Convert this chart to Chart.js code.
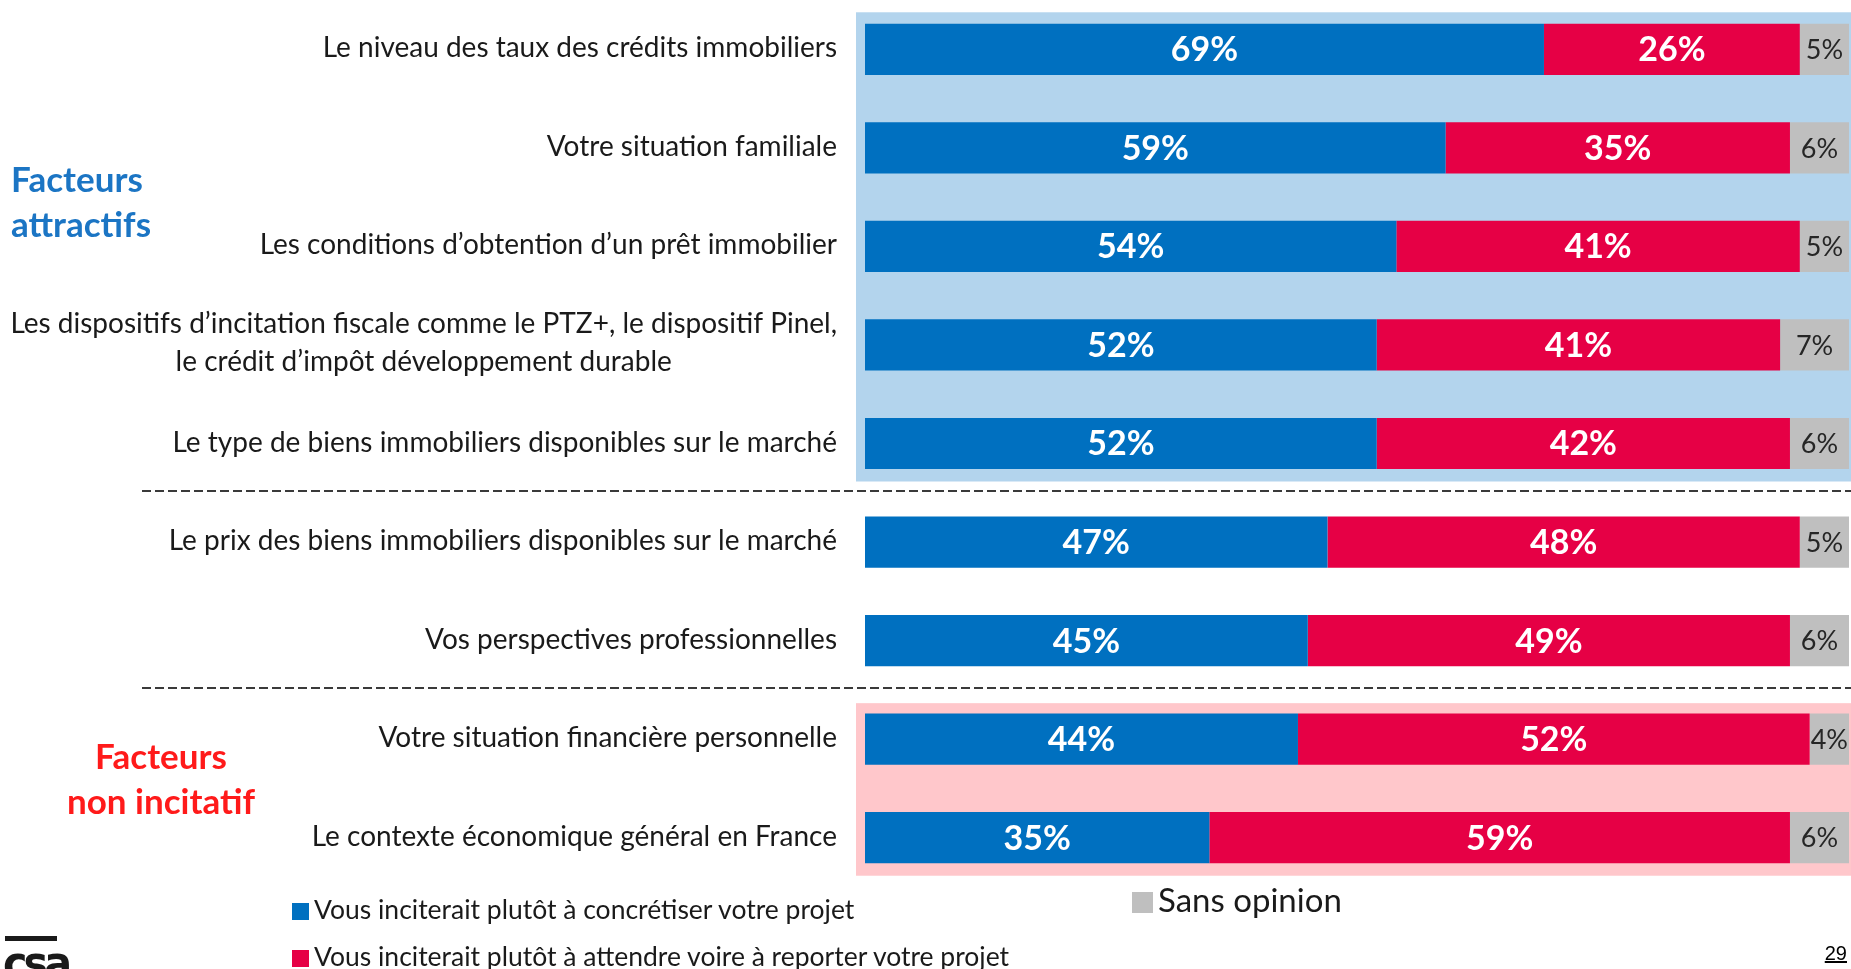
<!DOCTYPE html>
<html>
<head>
<meta charset="utf-8">
<script src="https://cdn.jsdelivr.net/npm/chart.js@4"></script>
<style>
  body { margin: 0; background: #fff; font-family: Lato, sans-serif; }
  #wrap { position: relative; width: 1851px; height: 969px; overflow: hidden; }
  #myChart { position: absolute; left: 0; top: 0; }
  .side { position: absolute; font-weight: bold; font-size: 35px; line-height: 45px; }
  .leg { position: absolute; color: #1a1a1a; white-space: nowrap; }
  .leg i { display: inline-block; margin-right: 5px; vertical-align: -1px; }
</style>
</head>
<body>
<div id="wrap">
  <canvas id="myChart" width="1851" height="969"></canvas>
  <div class="side" style="left:11px;top:156px;color:#1b75c4;">Facteurs<br>attractifs</div>
  <div class="side" style="left:31px;top:733px;width:260px;text-align:center;color:#ff1a1a;">Facteurs<br>non incitatif</div>
  <div id="legend"></div>
  <div style="position:absolute;left:5px;top:936px;width:52px;height:5px;background:#1a1a1a;"></div>
  <div style="position:absolute;left:3px;top:936px;font:bold 46px 'DejaVu Sans Condensed',sans-serif;color:#1a1a1a;letter-spacing:-4px;">csa</div>
  <div style="position:absolute;right:4px;top:942px;font:20px 'Liberation Sans',Arial,sans-serif;text-decoration:underline;color:#000;">29</div>
</div>
<script>
const categories = [
  'Le niveau des taux des crédits immobiliers',
  'Votre situation familiale',
  'Les conditions d’obtention d’un prêt immobilier',
  ['Les dispositifs d’incitation fiscale comme le PTZ+, le dispositif Pinel,', 'le crédit d’impôt développement durable'],
  'Le type de biens immobiliers disponibles sur le marché',
  'Le prix des biens immobiliers disponibles sur le marché',
  'Vos perspectives professionnelles',
  'Votre situation financière personnelle',
  'Le contexte économique général en France',
];
const concretiser = [69, 59, 54, 52, 52, 47, 45, 44, 35];
const attendre = [26, 35, 41, 41, 42, 48, 49, 52, 59];
const sansOpinion = [5, 6, 5, 7, 6, 5, 6, 4, 6];

const seriesNames = [
  'Vous inciterait plutôt à concrétiser votre projet',
  'Vous inciterait plutôt à attendre voire à reporter votre projet',
  'Sans opinion',
];
const colors = ['#0070c0', '#e60045', '#bfbfbf'];

// rows 0-4 = attractifs, 7-8 = non incitatif
const attractifRows = [0, 4];
const nonIncitatifRows = [7, 8];
const separators = [4, 6];

const panels = {
  id: 'panels',
  beforeDatasetsDraw(chart) {
    const { ctx, chartArea, scales: { y } } = chart;
    const left = chartArea.left - 9;
    const right = chart.width;
    ctx.save();
    ctx.fillStyle = '#b3d4ed';
    let t = y.getPixelForValue(attractifRows[0]) - 37;
    let b = y.getPixelForValue(attractifRows[1]) + 38;
    ctx.fillRect(left, t, right - left, b - t);
    ctx.fillStyle = '#ffc7cb';
    t = y.getPixelForValue(nonIncitatifRows[0]) - 36;
    b = y.getPixelForValue(nonIncitatifRows[1]) + 38;
    ctx.fillRect(left, t, right - left, b - t);

    ctx.strokeStyle = '#3a3a3a';
    ctx.lineWidth = 2;
    ctx.setLineDash([9, 4]);
    separators.forEach(i => {
      const yy = Math.round((y.getPixelForValue(i) + y.getPixelForValue(i + 1)) / 2) - 2;
      ctx.beginPath();
      ctx.moveTo(142, yy);
      ctx.lineTo(right, yy);
      ctx.stroke();
    });
    ctx.restore();
  },
};

const labels = {
  id: 'labels',
  afterDatasetsDraw(chart) {
    const { ctx, chartArea, scales: { y } } = chart;
    ctx.save();
    ctx.textBaseline = 'middle';

    // category labels
    ctx.fillStyle = '#1a1a1a';
    ctx.font = '28px Lato';
    const rightX = chartArea.left - 28;
    categories.forEach((c, i) => {
      const cy = y.getPixelForValue(i);
      if (Array.isArray(c)) {
        const w = Math.max(...c.map(s => ctx.measureText(s).width));
        ctx.textAlign = 'center';
        c.forEach((s, k) => {
          ctx.fillText(s, rightX - w / 2, cy - 2 + (k - (c.length - 1) / 2) * 38);
        });
      } else {
        ctx.textAlign = 'right';
        ctx.fillText(c, rightX, cy - 1);
      }
    });

    // values in bars
    ctx.textAlign = 'center';
    chart.data.datasets.forEach((ds, di) => {
      const meta = chart.getDatasetMeta(di);
      meta.data.forEach((bar, i) => {
        const p = bar.getProps(['x', 'base', 'y']);
        const cx = (p.x + p.base) / 2;
        if (di < 2) {
          ctx.fillStyle = '#fff';
          ctx.font = 'bold 34px Lato';
        } else {
          ctx.fillStyle = '#262626';
          ctx.font = '27px Lato';
        }
        ctx.fillText(ds.data[i] + '%', cx, p.y + 1);
      });
    });
    ctx.restore();
  },
};

const data = {
  labels: categories,
  datasets: [
    { label: seriesNames[0], data: concretiser, backgroundColor: colors[0] },
    { label: seriesNames[1], data: attendre, backgroundColor: colors[1] },
    { label: seriesNames[2], data: sansOpinion, backgroundColor: colors[2] },
  ],
};

const config = {
  type: 'bar',
  data: data,
  options: {
    indexAxis: 'y',
    responsive: false,
    animation: false,
    layout: { padding: { left: 865, right: 2, top: 0, bottom: 82 } },
    datasets: { bar: { categoryPercentage: 1, barPercentage: 0.52 } },
    scales: {
      x: { stacked: true, min: 0, max: 100, display: false },
      y: { stacked: true, display: false },
    },
    plugins: { legend: { display: false }, tooltip: { enabled: false } },
  },
  plugins: [panels, labels],
};

const myChart = new Chart(document.getElementById('myChart'), config);

// html legend
const legendPos = [
  { left: 292, top: 893, size: 26.5 },
  { left: 292, top: 940, size: 26.5 },
  { left: 1132, top: 880, size: 33 },
];
const $legend = document.getElementById('legend');
$legend.innerHTML = seriesNames.map((n, i) => {
  const p = legendPos[i];
  const sq = i === 2 ? 21 : 17;
  return `<div class='leg' style='left:${p.left}px;top:${p.top}px;font-size:${p.size}px;line-height:${Math.round(p.size + 6)}px'>
    <i style='background:${colors[i]};width:${sq}px;height:${sq}px'></i>${n}</div>`;
}).join('');
</script>
</body>
</html>
